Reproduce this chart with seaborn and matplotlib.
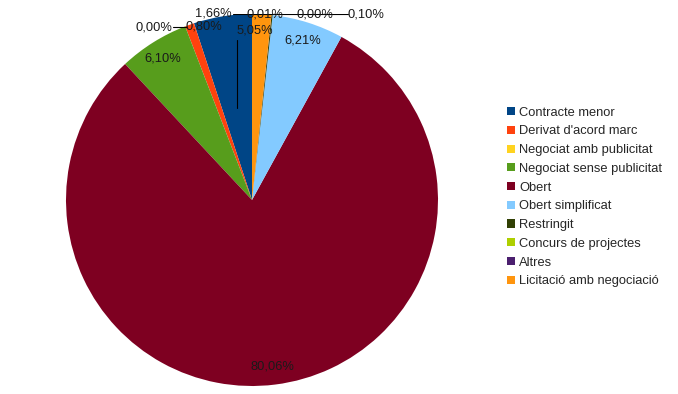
import seaborn as sns
import matplotlib.pyplot as plt
import numpy as np

sns.set_theme(style="white")
plt.rcParams['font.family'] = ['Liberation Sans', 'DejaVu Sans']

# data (percent of total)
categories = ["Contracte menor", "Derivat d'acord marc", "Negociat amb publicitat",
              "Negociat sense publicitat", "Obert", "Obert simplificat", "Restringit",
              "Concurs de projectes", "Altres", "Licitació amb negociació"]
shares = [5.05, 0.80, 0.00, 6.10, 80.06, 6.21, 0.10, 0.00, 0.01, 1.66]
colors = ["#004586", "#ff420e", "#ffd320", "#579d1c", "#7e0021",
          "#83caff", "#314004", "#aecf00", "#4b1f6f", "#ff950e"]

# crowded labels at the top of the pie get pushed out like the original
label_pos = {
    0: (0.016, 0.909),
    1: (-0.258, 0.935),
    2: (-0.527, 0.93),
    6: (0.613, 0.995),
    7: (0.339, 0.995),
    8: (0.07, 0.995),
    9: (-0.21, 1.0),
}

fig = plt.figure(figsize=(6.78, 3.94), dpi=100)
ax = fig.add_axes([66 / 678, 8 / 394, 372 / 678, 372 / 394])

wedges, _ = ax.pie(shares, colors=colors, startangle=90, counterclock=True,
                   wedgeprops=dict(linewidth=0))
ax.set_xlim(-1, 1)
ax.set_ylim(-1, 1)
ax.set_aspect("equal")

# leader lines
ax.plot([-0.102, 0.516], [1.0, 1.0], color="black", lw=0.8, zorder=3)
ax.plot([-0.081, -0.081], [0.86, 0.495], color="black", lw=0.8, zorder=3)
ax.plot([-0.425, -0.35], [0.93, 0.93], color="black", lw=0.8, zorder=3)

for i, (w, v) in enumerate(zip(wedges, shares)):
    if i in label_pos:
        x, y = label_pos[i]
    else:
        ang = np.deg2rad((w.theta1 + w.theta2) / 2)
        x, y = 0.9 * np.cos(ang), 0.9 * np.sin(ang)
    ax.text(x, y, f"{v:.2f}".replace(".", ",") + "%", ha="center", va="center",
            fontsize=9.3, color="#1a1a1a", zorder=4, clip_on=False)

leg = fig.legend(wedges, categories, loc="center left",
                 bbox_to_anchor=(507 / 678, 1 - 197 / 394), frameon=False,
                 fontsize=9.3, handlelength=0.6, handleheight=0.6,
                 handletextpad=0.35, labelspacing=0.52, borderpad=0, borderaxespad=0)

fig.savefig("out.png", dpi=100)
